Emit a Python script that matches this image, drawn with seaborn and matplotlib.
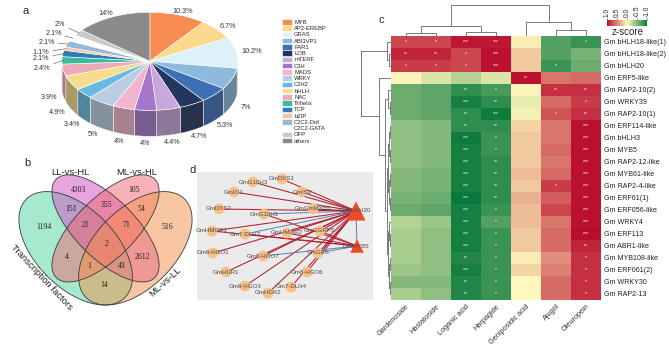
import numpy as np
import pandas as pd
import matplotlib
matplotlib.use('Agg')
import matplotlib.pyplot as plt
from matplotlib.patches import Ellipse
from matplotlib.colors import LinearSegmentedColormap, to_rgb
import seaborn as sns

sns.set_theme(style='white')
plt.rcParams['font.family'] = ['Liberation Sans', 'DejaVu Sans']

W, H = 669, 350

# ---- a: TF family shares ----
tf_names = ['MYB', 'AP2-EREBP', 'GRAS', 'ABI3VP1', 'FAR1', 'LOB', 'mTERF', 'C3H', 'MADS',
            'WRKY', 'C2H2', 'bHLH', 'NAC', 'Trihelix', 'TCP', 'bZIP', 'C2C2-Dof',
            'C2C2-GATA', 'OFP', 'others']
tf_pct = [10.3, 6.7, 10.2, 7, 5.3, 4.7, 4.4, 4, 4, 5, 3.4, 4.9, 3.9, 2.4, 2.1, 1.1, 2.1,
          2.1, 2, 14]
tf_colors = ['#F98C52', '#FCD98C', '#DDF1F8', '#8DB9DB', '#3D6FB5', '#22365F', '#C9A6DC',
             '#A576CA', '#F1B5CD', '#BACDE5', '#68BAE3', '#F8DC8E', '#EDABBA', '#3DB99B',
             '#2B7EB6', '#F9C79B', '#95B9DA', '#FFFFFF', '#C9C9C9', '#8A8A8A']

# ---- b: venn ----
venn_names = ['Transcription factors', 'LL-vs-HL', 'ML-vs-HL', 'ML-vs-LL']
venn_colors = ['#4DD79F', '#D14DC1', '#EF6771', '#F58F49']
venn_counts = [4303, 105, 151, 355, 54, 1194, 21, 71, 516, 2, 4, 2612, 1, 43, 14]

# ---- d: network ----
net_genes = ['GmG10H3', 'GmDXS1', 'GmIS9', 'GmIO1', 'GmDXS2', 'GmG10H1', 'GmGmMYB5',
             'GmHMGR1', 'Gm7-DLH3', 'GmHMGR2', 'GmGGPPS', 'Gm8-HGO1', 'Gm8-HGO7', 'GmGES',
             'GmHDR1', 'Gm8-HGO6', 'Gm8-HGO3', 'Gm7-DLH4', 'GmHDR2']
net_tfs = ['GmbHLH20', 'GmMYB5']
net_pos_edges = [('GmG10H3', 'GmbHLH20'), ('GmDXS1', 'GmbHLH20'), ('GmIS9', 'GmbHLH20'),
                 ('GmIO1', 'GmbHLH20'), ('GmDXS2', 'GmbHLH20'), ('GmGmMYB5', 'GmbHLH20'),
                 ('GmHMGR2', 'GmbHLH20'), ('GmGGPPS', 'GmbHLH20'), ('Gm8-HGO1', 'GmbHLH20'),
                 ('Gm8-HGO7', 'GmbHLH20'), ('GmGES', 'GmbHLH20'), ('GmHDR1', 'GmbHLH20'),
                 ('Gm8-HGO6', 'GmbHLH20'), ('Gm8-HGO3', 'GmbHLH20'), ('Gm7-DLH4', 'GmbHLH20'),
                 ('GmHDR2', 'GmbHLH20'), ('GmHMGR1', 'GmbHLH20'), ('GmG10H1', 'GmMYB5'),
                 ('GmHMGR1', 'GmMYB5'), ('Gm7-DLH3', 'GmMYB5'), ('GmHMGR2', 'GmMYB5'),
                 ('GmGGPPS', 'GmMYB5')]
net_neg_edges = [('GmG10H1', 'GmbHLH20'), ('Gm7-DLH3', 'GmbHLH20'), ('Gm8-HGO7', 'GmMYB5'),
                 ('GmbHLH20', 'GmMYB5'), ('GmGES', 'GmMYB5')]

# ---- c: correlation heatmap ----
metabolites = ['Gardenoside', 'Hastatoside', 'Loganic acid', 'Harpagide',
               'Geniposidic acid', 'Ajugol', 'Oleuropein']
tf_genes = ['Gm bHLH18-like(1)', 'Gm bHLH18-like(2)', 'Gm bHLH20', 'Gm ERF5-like',
            'Gm RAP2-10(2)', 'Gm WRKY39', 'Gm RAP2-10(1)', 'Gm ERF114-like', 'Gm bHLH3',
            'Gm MYB5', 'Gm RAP2-12-like', 'Gm MYB61-like', 'Gm RAP2-4-like', 'Gm ERF61(1)',
            'Gm ERF056-like', 'Gm WRKY4', 'Gm ERF113', 'Gm ABR1-like', 'Gm MYB108-like',
            'Gm ERF061(2)', 'Gm WRKY30', 'Gm RAP2-13']
corr_z = [
    [0.75, 0.75, 0.95, 0.95, 0.05, -0.7, -0.8],
    [0.9, 0.9, 0.75, 0.98, 0.2, -0.7, -0.55],
    [0.8, 0.8, 0.75, 0.98, 0.2, -0.8, -0.6],
    [0.02, -0.15, -0.3, -0.15, 0.98, 0.55, 0.6],
    [-0.6, -0.65, -0.85, -0.75, 0.02, 0.85, 0.85],
    [-0.6, -0.65, -0.95, -0.85, -0.1, 0.6, 0.8],
    [-0.6, -0.65, -0.85, -0.98, -0.05, 0.7, 0.85],
    [-0.45, -0.5, -0.85, -0.85, 0.15, 0.55, 0.98],
    [-0.45, -0.5, -0.98, -0.8, 0.2, 0.55, 0.98],
    [-0.45, -0.5, -0.95, -0.8, 0.2, 0.6, 0.98],
    [-0.45, -0.5, -0.95, -0.85, 0.2, 0.55, 0.98],
    [-0.5, -0.55, -0.95, -0.85, 0.25, 0.6, 0.98],
    [-0.5, -0.55, -0.95, -0.85, 0.2, 0.8, 0.98],
    [-0.55, -0.6, -1.0, -0.85, 0.3, 0.65, 0.98],
    [-0.6, -0.65, -0.95, -0.8, 0.25, 0.75, 0.98],
    [-0.3, -0.4, -0.95, -0.7, 0.25, 0.55, 0.98],
    [-0.35, -0.45, -0.95, -0.8, 0.2, 0.6, 1.0],
    [-0.35, -0.45, -0.95, -0.8, 0.2, 0.6, 0.9],
    [-0.35, -0.45, -0.9, -0.8, 0.05, 0.45, 0.85],
    [-0.4, -0.45, -0.95, -0.8, 0.15, 0.5, 0.85],
    [-0.5, -0.5, -0.9, -0.8, 0.0, 0.6, 0.85],
    [-0.35, -0.45, -0.9, -0.8, 0.0, 0.6, 0.85],
]
corr_sig = [
    ['*', '*', '***', '***', '', '', '*'],
    ['**', '**', '*', '***', '', '', ''],
    ['*', '*', '*', '***', '', '*', ''],
    ['', '', '', '', '**', '', ''],
    ['', '', '**', '*', '', '**', '**'],
    ['', '', '***', '**', '', '', '*'],
    ['', '', '**', '***', '', '*', '**'],
    ['', '', '**', '**', '', '', '***'],
    ['', '', '***', '*', '', '', '***'],
    ['', '', '***', '*', '', '', '***'],
    ['', '', '***', '**', '', '', '***'],
    ['', '', '***', '**', '', '', '***'],
    ['', '', '***', '**', '', '*', '***'],
    ['', '', '***', '**', '', '', '***'],
    ['', '', '***', '*', '', '', '***'],
    ['', '', '***', '*', '', '', '***'],
    ['', '', '***', '*', '', '', '***'],
    ['', '', '***', '*', '', '', '**'],
    ['', '', '**', '*', '', '', '*'],
    ['', '', '***', '*', '', '', '*'],
    ['', '', '**', '*', '', '', '*'],
    ['', '', '**', '*', '', '', '*'],
]
# clustering trees (height, left, right); leaves are indices
col_tree = (31, (10, (3, 0, 1), (4, 2, 3)), (14, 4, (6, 5, 6)))
row_tree = (30, (4, 0, (2, 1, 2)),
            (12, 3, (6, (3, 4, (1.5, 5, 6)),
                     (4.5, (3, (2, (1, 7, 8), (1, 9, 10)), (2.2, (1.2, 11, 12), (1.5, 13, 14))),
                      (3.5, (2, 15, (1, 16, 17)), (2.5, (1.3, 18, 19), (1.5, 20, 21)))))))


def px_axes(fig, x0, y0, x1, y1):
    return fig.add_axes([x0 / W, 1 - y1 / H, (x1 - x0) / W, (y1 - y0) / H])


def dendro_segments(node, segs):
    if not isinstance(node, tuple):
        return node + 0.5, 0.0
    h, left, right = node
    cl, hl = dendro_segments(left, segs)
    cr, hr = dendro_segments(right, segs)
    segs.append(([cl, cl, cr, cr], [hl, h, h, hr]))
    return (cl + cr) / 2, h


fig = plt.figure(figsize=(W / 100, H / 100), dpi=100)

# ===== a: 3D-looking pie =====
ax = px_axes(fig, 9, 0, 282, 152)
wedges, _ = ax.pie(tf_pct, colors=tf_colors, startangle=90, counterclock=False,
                   wedgeprops=dict(edgecolor='white', linewidth=0.4))
ax.set_aspect('auto')
ax.set_xlim(-1.6, 1.5)
ax.set_ylim(-1.85, 1.25)
depth = 0.53
for w, c in zip(wedges, tf_colors):
    a, b = max(w.theta1, -180), min(w.theta2, 0)
    if a >= b:
        continue
    t = np.radians(np.linspace(a, b, 40))
    xs = np.concatenate([np.cos(t), np.cos(t[::-1])])
    ys = np.concatenate([np.sin(t), np.sin(t[::-1]) - depth])
    side = 0.62 * np.array(to_rgb(c)) + 0.38 * 0.18
    ax.fill(xs, ys, color=side, zorder=0.5, lw=0.3, edgecolor='white')

lead_x = {13: -1.13, 14: -1.14, 15: -1.14, 16: -1.08, 17: -1.0, 18: -0.96}
lead_y = {13: -0.14, 14: 0.06, 15: 0.18, 16: 0.39, 17: 0.57, 18: 0.755}
for i, (w, v) in enumerate(zip(wedges, tf_pct)):
    m = np.radians((w.theta1 + w.theta2) / 2)
    txt = f'{v:g}%'
    if i in lead_x:
        ax.annotate(txt, xy=(0.99 * np.cos(m), 0.99 * np.sin(m)), xytext=(lead_x[i], lead_y[i]),
                    ha='right', va='center', fontsize=5.2, color='#333333',
                    arrowprops=dict(arrowstyle='-', lw=0.4, color='#555555',
                                    shrinkA=0, shrinkB=0))
    else:
        x = 1.17 * np.cos(m)
        y = (1.08 if np.sin(m) > 0 else 1.15) * np.sin(m)
        if np.sin(m) < 0:
            y -= depth
        ax.text(x, y, txt, ha='center', va='center', fontsize=5.2, color='#333333')

fig.legend(wedges, tf_names, loc='upper left', bbox_to_anchor=(282 / W, 1 - 19 / H),
           frameon=False, fontsize=4.2, handlelength=1.7, handleheight=1.1,
           labelspacing=0.08, handletextpad=0.4, borderpad=0, borderaxespad=0)
fig.text(26 / W, 1 - 11 / H, 'a', fontsize=8, ha='center', va='center')

# ===== b: venn =====
ax = px_axes(fig, 0, 150, 211, 345)
ax.set_xlim(-0.030, 1.030)
ax.set_ylim(-0.016, 0.964)
ax.axis('off')
ell_geom = [(0.35, 0.47, 0.35, 0.20, 135), (0.5, 0.57, 0.35, 0.15, 135),
            (0.5, 0.57, 0.35, 0.15, 45), (0.65, 0.47, 0.35, 0.20, 45)]
for (cx, cy, ea, eb, ang), col in zip(ell_geom, venn_colors):
    ax.add_patch(Ellipse((cx, cy), 2 * ea, 2 * eb, angle=ang, facecolor=col, alpha=0.5, lw=0))
for (cx, cy, ea, eb, ang) in ell_geom:
    ax.add_patch(Ellipse((cx, cy), 2 * ea, 2 * eb, angle=ang, fill=False, lw=0.6,
                         edgecolor='#3a3a3a'))
count_xy = [(0.367, 0.763), (0.643, 0.763), (0.327, 0.667), (0.503, 0.688), (0.678, 0.667),
            (0.191, 0.577), (0.402, 0.587), (0.603, 0.587), (0.809, 0.577), (0.508, 0.492),
            (0.307, 0.426), (0.683, 0.426), (0.417, 0.381), (0.583, 0.381), (0.492, 0.286)]
for n, (x, y) in zip(venn_counts, count_xy):
    ax.text(x, y, str(n), ha='center', va='center', fontsize=5.6, family='Liberation Serif',
            color='#222222')
name_xy = [(0.181, 0.326, -47), (0.322, 0.853, 0), (0.658, 0.853, 0), (0.799, 0.300, 42)]
for name, (x, y, r) in zip(venn_names, name_xy):
    ax.text(x, y, name, ha='center', va='center', rotation=r, fontsize=6.8, color='#222222')
fig.text(27 / W, 1 - 163 / H, 'b', fontsize=8, ha='center', va='center')

# ===== d: network =====
ax = px_axes(fig, 197, 172, 373, 300)
ax.set_facecolor('#EBEBEB')
for s in ax.spines.values():
    s.set_visible(False)
ax.set_xticks([])
ax.set_yticks([])
ax.set_xlim(197, 373)
ax.set_ylim(300, 172)
node_xy = {'GmG10H3': (253, 182), 'GmDXS1': (282, 179), 'GmIS9': (302, 192),
           'GmIO1': (234, 192), 'GmDXS2': (219, 209), 'GmG10H1': (264, 214),
           'GmGmMYB5': (313, 209), 'GmHMGR1': (212, 231), 'Gm7-DLH3': (245, 234),
           'GmHMGR2': (287, 233), 'GmGGPPS': (320, 231), 'Gm8-HGO1': (213, 253),
           'Gm8-HGO7': (263, 256), 'GmGES': (318, 253), 'GmHDR1': (226, 272),
           'Gm8-HGO6': (307, 272), 'Gm8-HGO3': (245, 286), 'Gm7-DLH4': (291, 287),
           'GmHDR2': (268, 293), 'GmbHLH20': (356, 211), 'GmMYB5': (357, 246)}
for edges, col, lw in [(net_pos_edges, '#B41F2E', 0.75), (net_neg_edges, '#5A7FB4', 0.7)]:
    for a, b in edges:
        (x0, y0), (x1, y1) = node_xy[a], node_xy[b]
        ax.plot([x0, x1], [y0, y1], color=col, lw=lw, zorder=1)
gx = [node_xy[g][0] for g in net_genes]
gy = [node_xy[g][1] for g in net_genes]
ax.scatter(gx, gy, s=60, color='#F8BF87', edgecolor='none', zorder=2)
ax.scatter(node_xy['GmbHLH20'][0], node_xy['GmbHLH20'][1], s=190, marker='^',
           color='#F24A22', edgecolor='none', zorder=2)
ax.scatter(node_xy['GmMYB5'][0], node_xy['GmMYB5'][1], s=95, marker='^',
           color='#F24A22', edgecolor='none', zorder=2)
for g in net_genes + net_tfs:
    x, y = node_xy[g]
    if g in net_tfs:
        x -= 1
    ax.text(x, y, g, ha='center', va='center', fontsize=4.4, color='#4a4a4a', zorder=3)
fig.text(193 / W, 1 - 170 / H, 'd', fontsize=8, ha='center', va='center')

# ===== c: clustered heatmap =====
cmap = LinearSegmentedColormap.from_list('zs', ['#0A7A3C', '#FFF8BC', '#BA0D2C'])
df = pd.DataFrame(corr_z, index=tf_genes, columns=metabolites)
sig = pd.DataFrame(corr_sig, index=tf_genes, columns=metabolites)
ax = px_axes(fig, 391, 36, 601, 300)
cax = px_axes(fig, 607, 20, 647, 26)
sns.heatmap(df, ax=ax, cmap=cmap, vmin=-1, vmax=1, annot=sig, fmt='',
            annot_kws=dict(size=3.6, color='white'), cbar_ax=cax,
            cbar_kws=dict(orientation='horizontal'), xticklabels=True, yticklabels=True)
ax.set_xlabel('')
ax.set_ylabel('')
ax.yaxis.tick_right()
ax.tick_params(axis='both', length=0)
ax.set_yticklabels(tf_genes, rotation=0, fontsize=5.1, color='#222222')
ax.tick_params(axis='y', pad=2.5)
ax.set_xticklabels(metabolites, rotation=45, ha='right', rotation_mode='anchor',
                   fontsize=5.3, color='#333333')
ax.tick_params(axis='x', pad=2)

cax.invert_xaxis()
cax.xaxis.set_ticks_position('top')
cax.set_xticks([1, 0.5, 0, -0.5, -1])
cax.set_xticklabels(['1.0', '0.5', '0.0', '-0.5', '-1.0'], rotation=90, fontsize=4.8)
cax.tick_params(axis='x', length=1.5, width=0.4, pad=1)
for s in cax.spines.values():
    s.set_visible(False)
fig.text(628 / W, 1 - 32 / H, 'z-score', fontsize=7, ha='center', va='center')

# column dendrogram
dax = px_axes(fig, 391, 3, 601, 36)
segs = []
dendro_segments(col_tree, segs)
for xs, hs in segs:
    dax.plot(xs, hs, color='#7A7A7A', lw=0.7)
dax.set_xlim(0, len(metabolites))
dax.set_ylim(0, 33)
dax.axis('off')

# row dendrogram
rax = px_axes(fig, 358, 36, 391, 300)
segs = []
dendro_segments(row_tree, segs)
for ys, hs in segs:
    rax.plot(hs, ys, color='#7A7A7A', lw=0.7)
rax.set_xlim(33, 0)
rax.set_ylim(len(tf_genes), 0)
rax.axis('off')
fig.text(381 / W, 1 - 20 / H, 'c', fontsize=8, ha='center', va='center')

fig.savefig('out.png', dpi=100)
plt.close(fig)
